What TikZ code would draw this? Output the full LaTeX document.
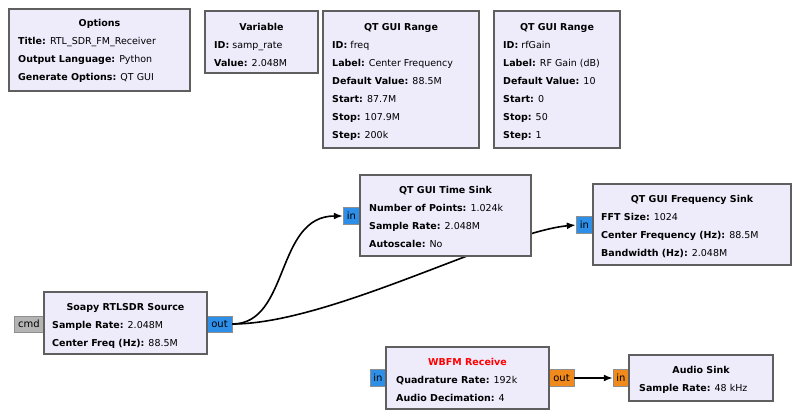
\documentclass[tikz,border=0pt]{standalone}
\usepackage{fontspec}
\setmainfont{DejaVu Sans}
\usetikzlibrary{arrows.meta}
\definecolor{blk}{HTML}{EEEBFB}
\definecolor{bord}{HTML}{5F5F5F}
\definecolor{pblue}{HTML}{2E8FE8}
\definecolor{porange}{HTML}{F08A1C}
\definecolor{pgray}{HTML}{B4B4B4}
\tikzset{
  box/.style={draw=bord,line width=1.6pt,fill=blk},
  port/.style={draw=bord!70,line width=0.5pt,inner sep=0pt,font=\fontsize{10}{10}\selectfont},
  ttl/.style={font=\fontsize{9.5}{10}\bfseries\selectfont,anchor=base,inner sep=0pt},
  ln/.style={font=\fontsize{9.5}{10}\selectfont,anchor=base west,inner sep=0pt},
  wire/.style={line width=1.6pt,-{Latex[length=9pt,width=7pt]}},
}
\newcommand{\blkbox}[5]{% name x1 y1 x2 y2
  \path[box] (#2,#3) rectangle (#4,#5);
  \coordinate (#1) at ({(#2+#4)/2},{(#3+#5)/2});}
\begin{document}
\begin{tikzpicture}[x=1pt,y=-1pt]
\useasboundingbox (0,0) rectangle (800,418);
% ports
\node[port,fill=pgray,minimum width=30pt,minimum height=16pt] (cmd) at (29,324) {cmd};
\node[port,fill=pblue,minimum width=25pt,minimum height=16pt] (sout) at (219.5,324) {out};
\node[port,fill=pblue,minimum width=17pt,minimum height=17pt] (tin) at (351.5,216) {in};
\node[port,fill=pblue,minimum width=17pt,minimum height=17pt] (fin) at (584.5,225) {in};
\node[port,fill=pblue,minimum width=16pt,minimum height=17pt] (win) at (378,378) {in};
\node[port,fill=porange,minimum width=25pt,minimum height=17pt] (wout) at (561.5,378) {out};
\node[port,fill=porange,minimum width=16pt,minimum height=17pt] (ain) at (621,378) {in};
% wires behind
\draw[wire] (sout.east) .. controls (330,324) and (500,232) .. (fin.west);
\draw[wire] (sout.east) .. controls (290,324) and (275,216) .. (tin.west);
\draw[wire] (wout.east) -- (ain.west);
% Options
\blkbox{opt}{9}{9}{190}{91}
\node[ttl] at (99.5,26) {Options};
\node[ln] at (18,44) {\textbf{Title:} RTL\_SDR\_FM\_Receiver};
\node[ln] at (18,62) {\textbf{Output Language:} Python};
\node[ln] at (18,80) {\textbf{Generate Options:} QT GUI};
% Variable
\blkbox{var}{205}{11}{318}{73}
\node[ttl] at (261.5,30) {Variable};
\node[ln] at (214,48) {\textbf{ID:} samp\_rate};
\node[ln] at (214,66) {\textbf{Value:} 2.048M};
% Range freq
\blkbox{rf}{323}{11}{479}{148}
\node[ttl] at (401,30) {QT GUI Range};
\node[ln] at (332,48) {\textbf{ID:} freq};
\node[ln] at (332,66) {\textbf{Label:} Center Frequency};
\node[ln] at (332,84) {\textbf{Default Value:} 88.5M};
\node[ln] at (332,102) {\textbf{Start:} 87.7M};
\node[ln] at (332,120) {\textbf{Stop:} 107.9M};
\node[ln] at (332,138) {\textbf{Step:} 200k};
% Range gain
\blkbox{rg}{494}{11}{620}{148}
\node[ttl] at (557,30) {QT GUI Range};
\node[ln] at (503,48) {\textbf{ID:} rfGain};
\node[ln] at (503,66) {\textbf{Label:} RF Gain (dB)};
\node[ln] at (503,84) {\textbf{Default Value:} 10};
\node[ln] at (503,102) {\textbf{Start:} 0};
\node[ln] at (503,120) {\textbf{Stop:} 50};
\node[ln] at (503,138) {\textbf{Step:} 1};
% Time sink
\blkbox{ts}{360}{175}{531}{256}
\node[ttl] at (445.5,193) {QT GUI Time Sink};
\node[ln] at (369,211) {\textbf{Number of Points:} 1.024k};
\node[ln] at (369,229) {\textbf{Sample Rate:} 2.048M};
\node[ln] at (369,247) {\textbf{Autoscale:} No};
% Freq sink
\blkbox{fs}{593}{184}{791}{265}
\node[ttl] at (692,202) {QT GUI Frequency Sink};
\node[ln] at (601,220) {\textbf{FFT Size:} 1024};
\node[ln] at (601,238) {\textbf{Center Frequency (Hz):} 88.5M};
\node[ln] at (601,256) {\textbf{Bandwidth (Hz):} 2.048M};
% Soapy
\blkbox{src}{44}{292}{207}{354}
\node[ttl] at (125.5,310) {Soapy RTLSDR Source};
\node[ln] at (52,328) {\textbf{Sample Rate:} 2.048M};
\node[ln] at (52,346) {\textbf{Center Freq (Hz):} 88.5M};
% WBFM
\blkbox{wb}{386}{347}{549}{409}
\node[ttl,text=red] at (467.5,365) {WBFM Receive};
\node[ln] at (396,383) {\textbf{Quadrature Rate:} 192k};
\node[ln] at (396,401) {\textbf{Audio Decimation:} 4};
% Audio
\blkbox{as}{629}{355}{773}{401}
\node[ttl] at (701,373) {Audio Sink};
\node[ln] at (639,391) {\textbf{Sample Rate:} 48 kHz};
\end{tikzpicture}
\end{document}
